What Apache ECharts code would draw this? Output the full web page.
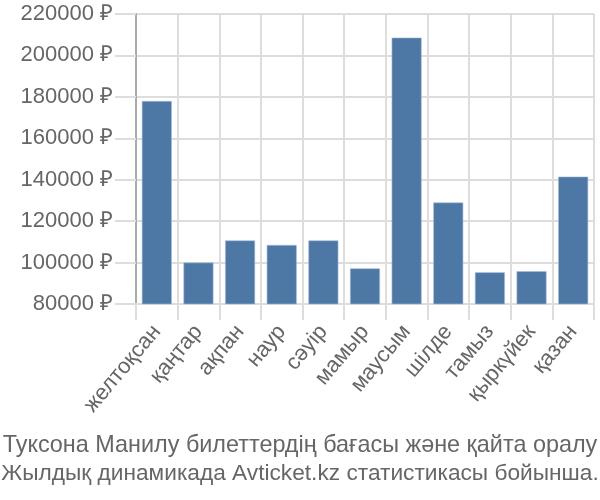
<!DOCTYPE html>
<html><head><meta charset="utf-8">
<script src="https://cdn.jsdelivr.net/npm/echarts@6/dist/echarts.min.js"></script>
<style>html,body{margin:0;padding:0;background:#fff}#c{width:600px;height:500px}</style>
</head><body><div id="c"></div>
<script>
const categories = ['желтоқсан','қаңтар','ақпан','наур','сәуір','мамыр','маусым','шілде','тамыз','қыркүйек','қазан'];
const prices = [178000, 100000, 110700, 108500, 110700, 97200, 208600, 129000, 95300, 95800, 141500];
const yTicks = {min: 80000, max: 220000, interval: 20000};
const currency = '₽';
const titleLines = ['Туксона Манилу билеттердің бағасы және қайта оралу', 'Жылдық динамикада Avticket.kz статистикасы бойынша.'];

const chart = echarts.init(document.getElementById('c'), null, {renderer: 'canvas'});
const font = '"Liberation Sans", Arial, sans-serif';
chart.setOption({
  animation: false,
  grid: {left: 136, right: 6, top: 14, bottom: 196, containLabel: false},
  title: [
    {
      text: titleLines[0], left: 300, top: 434, textAlign: 'center', padding: 0,
      textStyle: {fontFamily: font, fontSize: 23.4, fontWeight: 'normal', color: '#666'}
    },
    {
      text: titleLines[1], left: 300, top: 462, textAlign: 'center', padding: 0,
      textStyle: {fontFamily: font, fontSize: 22.7, fontWeight: 'normal', color: '#666'}
    }
  ],
  xAxis: {
    type: 'category', data: categories,
    axisLine: {show: true, lineStyle: {color: '#ddd', width: 2}},
    axisTick: {show: true, length: 16, lineStyle: {color: '#ddd', width: 2}},
    splitLine: {show: true, lineStyle: {color: '#ddd', width: 2}},
    axisLabel: {rotate: 50, fontFamily: font, fontSize: 22, color: '#666', margin: 24, interval: 0}
  },
  yAxis: {
    type: 'value', min: yTicks.min, max: yTicks.max, interval: yTicks.interval,
    axisLine: {show: true, lineStyle: {color: '#aaa', width: 2}},
    axisTick: {show: true, length: 21, lineStyle: {color: '#ddd', width: 2}},
    splitLine: {show: true, lineStyle: {color: '#ddd', width: 2}},
    axisLabel: {formatter: v => v + ' ' + currency, fontFamily: font, fontSize: 22, color: '#666', margin: 23}
  },
  series: [{
    type: 'bar', data: prices, barWidth: '72%',
    itemStyle: {color: '#4d78a6', borderColor: '#a9bcd3', borderWidth: 0.6}
  }]
});
</script></body></html>
